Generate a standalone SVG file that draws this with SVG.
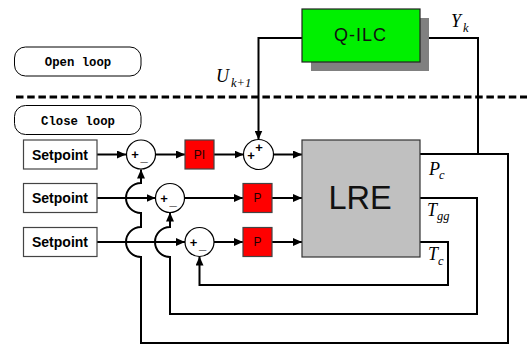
<svg xmlns="http://www.w3.org/2000/svg" width="527" height="345" viewBox="0 0 527 345">
<style>
.box{stroke:#444;stroke-width:1.2}
.sp{fill:#fff}
.red{fill:#ff0000}
.sum{fill:#fff;stroke:#000;stroke-width:1.2}
.ln{fill:none;stroke:#000;stroke-width:2}
.spt{font-family:"Liberation Sans",Arial,sans-serif;font-weight:bold;font-size:14px;text-anchor:middle}
.blk{font-family:"Liberation Sans",Arial,sans-serif;font-size:12px;text-anchor:middle;fill:#200000}
.sg{font-family:"Liberation Sans",Arial,sans-serif;font-weight:bold;font-size:13px;text-anchor:middle}
.mono{font-family:"Liberation Mono","Courier New",monospace;font-weight:bold;font-size:12.3px;text-anchor:middle}
.m{font-family:"Liberation Serif","Times New Roman",serif;font-style:italic;font-size:18px}
.sub{font-family:"Liberation Serif","Times New Roman",serif;font-style:italic;font-size:12.5px}
</style>
<defs>
<marker id="ah" markerUnits="userSpaceOnUse" markerWidth="10" markerHeight="8" refX="9" refY="4" orient="auto">
<path d="M0,0 L9,4 L0,8 z" fill="#000"/>
</marker>
</defs>
<rect width="527" height="345" fill="#fff"/>
<g id="open-loop"><rect x="14.5" y="47" width="126.5" height="29" rx="11" fill="#fff" stroke="#000" stroke-width="1"/><text class="mono" x="78" y="66">Open loop</text></g>
<g id="close-loop"><rect x="14.5" y="105.5" width="126.5" height="29" rx="11" fill="#fff" stroke="#000" stroke-width="1"/><text class="mono" x="78" y="124.5">Close loop</text></g>
<line x1="16" y1="97" x2="527" y2="97" stroke="#000" stroke-width="3" stroke-dasharray="7.5,3.7"/>
<g id="connectors">
<path class="ln" d="M97,154.5 H126" marker-end="url(#ah)"/>
<path class="ln" d="M155.5,154.5 H185" marker-end="url(#ah)"/>
<path class="ln" d="M214,154.5 H243.5" marker-end="url(#ah)"/>
<path class="ln" d="M273.5,154.5 H302" marker-end="url(#ah)"/>
<path class="ln" d="M97,198 H155.5" marker-end="url(#ah)"/>
<path class="ln" d="M184.5,198 H243" marker-end="url(#ah)"/>
<path class="ln" d="M272,198 H302" marker-end="url(#ah)"/>
<path class="ln" d="M97,242 H185" marker-end="url(#ah)"/>
<path class="ln" d="M214,242 H243" marker-end="url(#ah)"/>
<path class="ln" d="M272,242 H302" marker-end="url(#ah)"/>
<path class="ln" d="M302,38 H258.5 V139.5" marker-end="url(#ah)"/>
<path class="ln" d="M478,154 V38 H420" marker-end="url(#ah)"/>
<path class="ln" d="M420,154 H508 V343 H141 V257 A15,15 0 0 1 141,227 V213 A15,15 0 0 1 141,183 V169.5" marker-end="url(#ah)"/>
<path class="ln" d="M420,198 H477 V314 H170 V257 A15,15 0 0 1 170,227 V212.5" marker-end="url(#ah)"/>
<path class="ln" d="M420,242 H448 V285 H199.5 V256.5" marker-end="url(#ah)"/>
</g>
<g id="setpoint1"><rect class="box sp" x="23.5" y="140" width="73.5" height="29"/><text class="spt" x="60" y="159.5">Setpoint</text></g>
<g id="setpoint2"><rect class="box sp" x="23.5" y="183.5" width="73.5" height="29"/><text class="spt" x="60" y="203">Setpoint</text></g>
<g id="setpoint3"><rect class="box sp" x="23.5" y="227.5" width="73.5" height="29"/><text class="spt" x="60" y="247">Setpoint</text></g>
<g id="sum1"><circle class="sum" cx="141" cy="154.5" r="14.5"/><text class="sg" x="135" y="159">+</text><text class="sg" x="144" y="161">_</text></g>
<g id="sum2"><circle class="sum" cx="170" cy="198" r="14.5"/><text class="sg" x="164" y="202.5">+</text><text class="sg" x="173" y="204.5">_</text></g>
<g id="sum3"><circle class="sum" cx="199.5" cy="242" r="14.5"/><text class="sg" x="193.5" y="246.5">+</text><text class="sg" x="202.5" y="248.5">_</text></g>
<g id="sum4"><circle class="sum" cx="258.5" cy="154.5" r="15"/><text class="sg" x="251" y="160">+</text><text class="sg" x="259" y="151.5">+</text></g>
<g id="pi"><rect class="box red" x="185" y="140" width="29" height="29"/><text class="blk" x="199.5" y="158.5">PI</text></g>
<g id="p1"><rect class="box red" x="243" y="183.5" width="29" height="29"/><text class="blk" x="257.5" y="202">P</text></g>
<g id="p2"><rect class="box red" x="243" y="227.5" width="29" height="29"/><text class="blk" x="257.5" y="246">P</text></g>
<g id="lre"><rect x="302" y="140" width="118" height="117" fill="#c0c0c0" stroke="#333" stroke-width="1.2"/><text x="360" y="208.5" font-family="'Liberation Sans',Arial,sans-serif" font-size="32.5" text-anchor="middle" fill="#111">LRE</text></g>
<g id="qilc"><rect x="311" y="18" width="118" height="53" fill="#808080"/><rect x="302" y="9" width="118" height="53" fill="#00f000" stroke="#222" stroke-width="1.2"/><text x="360.5" y="41" font-family="'Liberation Sans',Arial,sans-serif" font-size="18" letter-spacing="1" text-anchor="middle" fill="#111">Q-ILC</text></g>
<g id="labels">
<text class="m" x="216" y="81.5">U</text><text class="sub" x="231" y="87">k+1</text>
<text class="m" x="451" y="27">Y</text><text class="sub" x="463" y="32">k</text>
<text class="m" x="429" y="175">P</text><text class="sub" x="439" y="178.5">c</text>
<text class="m" x="427" y="215.5">T</text><text class="sub" x="437" y="220">gg</text>
<text class="m" x="428" y="260">T</text><text class="sub" x="438" y="265">c</text>
</g>
</svg>
